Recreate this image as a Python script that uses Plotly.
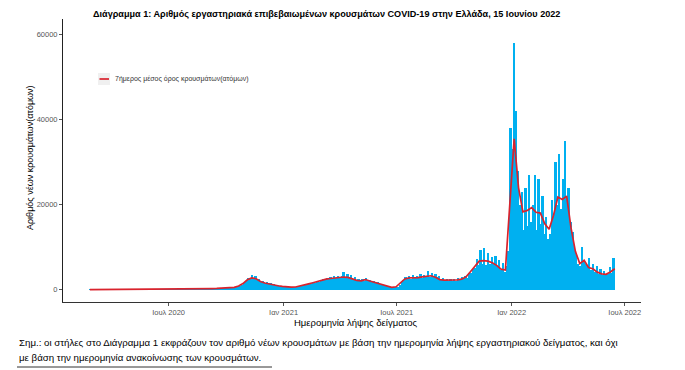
import pandas as pd
import plotly.graph_objects as go

# ---------------- DATA ----------------
# Daily new cases, grouped in 3-day bins starting 2020-02-26
cases_2020 = [
    1, 2, 4, 8, 18, 30, 45, 70, 65, 90, 85, 75,          # Feb/Mar
    80, 70, 60, 55, 45, 30, 40, 25, 20, 15,              # Apr
    12, 15, 10, 8, 12, 10, 6, 9, 12, 10,                 # May
    8, 12, 10, 15, 12, 18, 15, 22, 18, 20,               # Jun
    15, 22, 25, 20, 30, 28, 35, 30, 40, 45, 55,          # Jul
    70, 85, 110, 130, 160, 180, 220, 190, 240, 200,      # Aug
    250, 210, 270, 230, 300, 260, 330, 280, 350, 310,    # Sep
    370, 330, 400, 420, 500, 620, 760, 900, 1150, 1500,  # Oct
    1900, 2800, 2400, 3500, 2600, 3200, 2300, 2600, 1800, 1900,  # Nov
    1500, 1700, 1300, 1450, 1150, 1200, 950, 1050, 800, 900, 700,  # Dec
]
cases_2021 = [
    650, 750, 550, 650, 500, 650, 600, 800, 750, 1000,             # Jan
    1050, 1300, 1200, 1500, 1400, 1750, 1600, 1900, 1850,          # Feb
    2000, 2450, 2200, 2700, 2400, 2900, 2500, 3100, 2700, 3300, 2800,  # Mar
    3200, 4200, 2800, 3600, 2700, 3400, 2400, 2900, 2100, 2600,    # Apr
    2000, 2500, 2100, 2700, 2200, 2300, 1800, 2000, 1500, 1700,    # May
    1300, 1100, 1050, 900, 800, 700, 600, 500, 550, 500,           # Jun
    700, 1000, 1700, 2300, 2900, 2600, 3300, 2600, 3400, 2700, 3200,  # Jul
    2900, 3700, 2800, 3500, 3100, 4300, 3000, 3800, 3100, 3600,    # Aug
    2900, 3300, 2400, 2800, 2100, 2600, 2000, 2500, 2100, 2600,    # Sep
    2100, 2700, 2200, 2900, 2400, 3300, 2800, 3900, 4000, 4800,    # Oct
    5000, 7200, 5800, 9200, 6000, 9800, 5900, 8600, 6100, 7600,    # Nov
    6000, 7800, 5200, 7000, 4500, 6300, 4200, 5500, 9000, 38000,   # Dec
]
cases_2022 = [
    33000, 58000, 42000, 28000, 20000, 23000, 14000, 24000, 15000, 27000, 16000,  # Jan
    20000, 27000, 14000, 26000, 15500, 22000, 13000, 17000, 12000,                # Feb
    13000, 21000, 17000, 30000, 20000, 32000, 19000, 26000, 35000, 22000,         # Mar
    24000, 16000, 13500, 10500, 8500, 6000, 5500, 10000, 6500, 6000,              # Apr
    5200, 7500, 4500, 6000, 4200, 5500, 3700, 4800, 3400, 4300, 3500,             # May
    3600, 5200, 3900, 7500,                                                       # Jun
]

# 7-day moving average, one value per week starting 2020-02-26
ma_2020 = [2, 5, 25, 60, 80, 70, 50, 40, 30, 15, 12, 10, 8, 10, 12, 15, 20, 20,
           20, 25, 30, 35, 50, 90, 140, 190, 210, 230, 240, 270, 300, 320, 360,
           520, 850, 1400, 2300, 2750, 2550, 1900, 1550, 1300, 1050, 900, 750]
ma_2021 = [620, 560, 600, 900, 1150, 1350, 1600, 1900, 2200, 2450, 2600, 2750,
           2950, 2950, 2850, 2500, 2150, 2050, 2350, 2000, 1700, 1250, 950, 650,
           520, 650, 1500, 2500, 2750, 2750, 2800, 3000, 3200, 3250, 2900, 2350,
           2200, 2200, 2250, 2300, 2450, 3000, 4200, 5400, 6700, 6800, 6700, 6300,
           5700, 4800, 4600, 20000]
ma_2022 = [35500, 24000, 18300, 18600, 19300, 18200, 18000, 15500, 14200, 17500,
           21800, 21200, 22000, 14500, 9000, 6100, 6900, 5200, 4900, 4100, 3700,
           3600, 4150, 4900]

tick_dates = ["2020-07-01", "2021-01-01", "2021-07-01", "2022-01-01", "2022-07-01"]
tick_labels = ["Ιουλ 2020", "Ιαν 2021", "Ιουλ 2021", "Ιαν 2022", "Ιουλ 2022"]
y_ticks = [0, 20000, 40000, 60000]

# ---------------- BUILD ----------------
cases = cases_2020 + cases_2021 + cases_2022
bar_dates = pd.date_range("2020-02-26", periods=len(cases), freq="3D") + pd.Timedelta(hours=36)
ma = ma_2020 + ma_2021 + ma_2022
ma_dates = pd.date_range("2020-02-26", periods=len(ma), freq="7D")

FONT = "Liberation Sans, Arial, sans-serif"
L, R, T, B = 63, 641, 19, 302
W, H = 685, 370


def px(x):
    return (x - L) / (R - L)


def py(y):
    return (B - y) / (B - T)


fig = go.Figure()
fig.add_trace(go.Bar(
    x=bar_dates, y=cases, width=[3 * 86400000] * len(cases),
    marker=dict(color="#00B0F0", line=dict(width=0)),
    showlegend=False, hoverinfo="x+y",
))
fig.add_trace(go.Scatter(
    x=ma_dates, y=ma, mode="lines",
    line=dict(color="#D9232D", width=1.7),
    showlegend=False,
))

fig.update_layout(
    width=W, height=H,
    margin=dict(l=L, r=W - R, t=T, b=H - B),
    paper_bgcolor="white", plot_bgcolor="white",
    bargap=0,
    xaxis=dict(
        type="date", range=["2020-01-14", "2022-07-27"],
        tickvals=tick_dates, ticktext=tick_labels,
        showgrid=False, zeroline=False,
        showline=True, linecolor="#333333", linewidth=1,
        ticks="outside", ticklen=3, tickcolor="#555555",
        tickfont=dict(family=FONT, size=7.5, color="#555555"),
    ),
    yaxis=dict(
        range=[-2930, 63700],
        tickvals=y_ticks, ticktext=[str(v) for v in y_ticks],
        showgrid=False, zeroline=False,
        showline=True, linecolor="#222222", linewidth=1,
        ticks="outside", ticklen=3, tickcolor="#555555",
        tickfont=dict(family=FONT, size=7.5, color="#555555"),
    ),
)

ann = [
    dict(text="<b>Διάγραμμα 1: Αριθμός εργαστηριακά επιβεβαιωμένων κρουσμάτων COVID-19 στην Ελλάδα, 15 Ιουνίου 2022</b>",
         x=px(91), y=py(14), xanchor="left", yanchor="middle",
         font=dict(family=FONT, size=9.1, color="black")),
    dict(text="Ημερομηνία λήψης δείγματος", x=px(356), y=py(322),
         xanchor="center", yanchor="middle",
         font=dict(family=FONT, size=9.5, color="black")),
    dict(text="Αριθμός νέων κρουσμάτων(ατόμων)", x=px(30), y=py(158),
         xanchor="center", yanchor="middle", textangle=-90,
         font=dict(family=FONT, size=9, color="black")),
    dict(text="7ήμερος μέσος όρος κρουσμάτων(ατόμων)", x=px(113), y=py(79),
         xanchor="left", yanchor="middle",
         font=dict(family=FONT, size=7, color="#333333")),
    dict(text="Σημ.: οι στήλες στο Διάγραμμα 1 εκφράζουν τον αριθμό νέων κρουσμάτων με βάση την ημερομηνία λήψης εργαστηριακού δείγματος, και όχι",
         x=px(17), y=py(342), xanchor="left", yanchor="middle",
         font=dict(family=FONT, size=9.7, color="black")),
    dict(text="με βάση την ημερομηνία ανακοίνωσης των κρουσμάτων.",
         x=px(17), y=py(357), xanchor="left", yanchor="middle",
         font=dict(family=FONT, size=9.7, color="black")),
]
for a in ann:
    a.update(xref="paper", yref="paper", showarrow=False)
fig.update_layout(annotations=ann)

shapes = [
    dict(type="rect", x0=px(98), x1=px(110), y0=py(85), y1=py(73),
         fillcolor="#F0F0F0", line=dict(width=0)),
    dict(type="line", x0=px(99.5), x1=px(109), y0=py(79), y1=py(79),
         line=dict(color="#D9232D", width=1.7)),
    dict(type="line", x0=px(17), x1=px(272), y0=py(367), y1=py(367),
         line=dict(color="#333333", width=1)),
]
for s in shapes:
    s.update(xref="paper", yref="paper")
fig.update_layout(shapes=shapes)

fig.write_html("out.html", config={"displayModeBar": False},
               post_script="document.body.style.margin='0';")
